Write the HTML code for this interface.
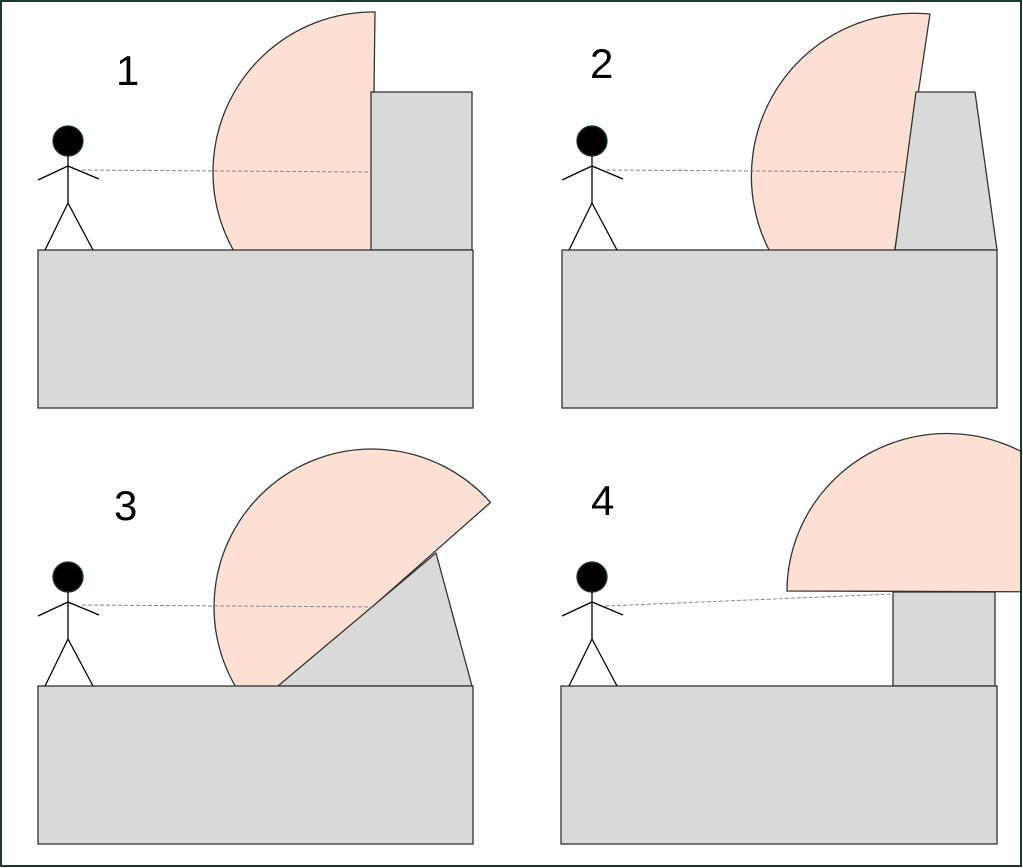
<!DOCTYPE html>
<html><head><style>
html,body{margin:0;padding:0;background:#fff;}
svg{display:block;}
text{font-family:"Liberation Sans",sans-serif;font-size:42px;fill:#000;}
</style></head><body>
<svg width="1023" height="868" viewBox="0 0 1023 868" xmlns="http://www.w3.org/2000/svg">
<defs>
<g id="man" stroke="#000" stroke-width="1.3" fill="none">
<circle cx="0" cy="0" r="15" fill="#000" stroke="#1a3a2a"/>
<line x1="0" y1="15" x2="0" y2="62"/>
<line x1="0" y1="25" x2="-30" y2="39"/>
<line x1="0" y1="25" x2="31" y2="38"/>
<line x1="0" y1="62" x2="-23" y2="109"/>
<line x1="0" y1="62" x2="25" y2="109"/>
</g>
<clipPath id="c"><rect x="0" y="0" width="1021" height="866"/></clipPath>
</defs>
<g clip-path="url(#c)" stroke="#333" stroke-width="1.3">
<!-- Panel 1 -->
<path d="M375,12 A160,160 0 0 0 371,332 Z" fill="#fde0d3"/>
<rect x="371" y="92" width="101" height="158" fill="#d9d9d9"/>
<rect x="38" y="250" width="435" height="158" fill="#d9d9d9"/>
<line x1="82" y1="170" x2="371" y2="172" stroke="#888" stroke-dasharray="4,2" stroke-width="1"/>
<use href="#man" x="68" y="141"/>
<text x="116" y="85" stroke="none">1</text>
<!-- Panel 2 -->
<path d="M930,14 A163,163 0 0 0 882,336 Z" fill="#fde0d3"/>
<polygon points="916,92 975,92 997,250 895,250" fill="#d9d9d9"/>
<rect x="562" y="250" width="435" height="158" fill="#d9d9d9"/>
<line x1="606" y1="170" x2="905" y2="172" stroke="#888" stroke-dasharray="4,2" stroke-width="1"/>
<use href="#man" x="592" y="141"/>
<text x="590" y="78" stroke="none">2</text>
<!-- Panel 3 -->
<path d="M490.5,502.5 A1,1 0 0 0 253.5,711.5 Z" fill="#fde0d3"/>
<polygon points="278,686 436,553 472,686" fill="#d9d9d9"/>
<rect x="38" y="686" width="435" height="158" fill="#d9d9d9"/>
<line x1="82" y1="605" x2="375" y2="607" stroke="#888" stroke-dasharray="4,2" stroke-width="1"/>
<use href="#man" x="68" y="577"/>
<text x="114" y="520" stroke="none">3</text>
<!-- Panel 4 -->
<path d="M787,591 A160,158 0 0 1 1107,592 Z" fill="#fde0d3"/>
<rect x="893" y="592" width="102" height="94" fill="#d9d9d9"/>
<rect x="561" y="686" width="436" height="158" fill="#d9d9d9"/>
<line x1="605" y1="606" x2="893" y2="594" stroke="#888" stroke-dasharray="4,2" stroke-width="1"/>
<use href="#man" x="592" y="577"/>
<text x="591" y="515" stroke="none">4</text>
</g>
<rect x="1" y="1" width="1020" height="865" fill="none" stroke="#1a3a2a" stroke-width="2"/>
</svg>
</body></html>
